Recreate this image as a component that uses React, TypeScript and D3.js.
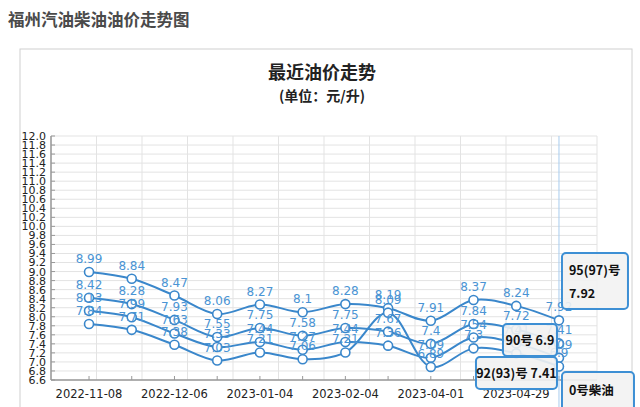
import React from "react";
import * as d3 from "d3";

const dates = [
  "2022-11-08", "2022-11-22", "2022-12-06", "2022-12-20", "2023-01-04", "2023-01-18",
  "2023-02-04", "2023-03-04", "2023-04-01", "2023-04-15", "2023-04-29", "2023-05-17",
];
const shownDates = ["2022-11-08", "2022-12-06", "2023-01-04", "2023-02-04", "2023-04-01", "2023-04-29"];
const seriesNames = ["95(97)号", "92(93)号", "0号柴油", "90号"];
const p95 = [8.99, 8.84, 8.47, 8.06, 8.27, 8.1, 8.28, 8.19, 7.91, 8.37, 8.24, 7.92];
const p92 = [8.42, 8.28, 7.93, 7.55, 7.75, 7.58, 7.75, 7.67, 7.4, 7.84, 7.72, 7.41];
const p0 = [8.13, 7.99, 7.63, 7.33, 7.44, 7.27, 7.44, 7.36, 7.09, 7.54, 7.41, 7.09];
const p90 = [7.84, 7.71, 7.38, 7.03, 7.21, 7.06, 7.21, 8.09, 6.89, 7.3, 7.19, 6.9];
const yTickLabels = [
  "6.6", "6.8", "7.0", "7.2", "7.4", "7.6", "7.8", "8.0", "8.2", "8.4", "8.6", "8.8", "9.0", "9.2",
  "9.4", "9.6", "9.8", "10.0", "10.2", "10.4", "10.6", "10.8", "11.0", "11.2", "11.4", "11.6", "11.8", "12.0",
];

const BLUE = "#3a87cb";
const LABEL_BLUE = "#4a94d4";
const FONT = "'DejaVu Sans', Verdana, sans-serif";
const CJK = "'Noto Sans CJK SC', 'Noto Sans', sans-serif";

export default function App() {
  const left = 51, right = 597, top = 136, bottom = 380;
  const x = d3.scalePoint<string>().domain(dates).range([left, right]).padding(0.89);
  const y = d3.scaleLinear().domain([6.6, 12.0]).range([bottom, top]);
  const series = [p95, p92, p0, p90];
  const line = d3
    .line<number>()
    .x((_, i) => x(dates[i]) as number)
    .y((d) => y(d))
    .curve(d3.curveCatmullRom.alpha(0.5));
  const vGrid = d3.range(0, 13).map((k) => left + ((right - left) * k) / 12);
  const lastX = x(dates[dates.length - 1]) as number;

  const tipStyle = { fill: "#f2f2f2", fillOpacity: 0.9, stroke: "#3d8fd4", strokeWidth: 2 };

  return (
    <svg width={640} height={407} style={{ position: "absolute", left: 0, top: 0, background: "#fff" }}>
      <text x={8} y={26} fontFamily={CJK} fontSize={16.5} fontWeight={700} fill="#4a4a4a">
        福州汽油柴油油价走势图
      </text>
      <rect x={20} y={49} width={612} height={370} fill="#fff" stroke="#d0d0d0" strokeWidth={1} />
      <text x={322} y={79} textAnchor="middle" fontFamily={CJK} fontSize={18} fontWeight={700} fill="#222">
        最近油价走势
      </text>
      <text x={322} y={101} textAnchor="middle" fontFamily={CJK} fontSize={14} fontWeight={700} fill="#222">
        (单位：元/升)
      </text>

      {/* grid */}
      {yTickLabels.map((t) => (
        <line key={"h" + t} x1={left} x2={right} y1={y(+t)} y2={y(+t)} stroke="#e3e3e3" strokeWidth={1} />
      ))}
      {vGrid.map((gx, i) => (
        <line key={"v" + i} x1={gx} x2={gx} y1={top} y2={bottom} stroke="#e3e3e3" strokeWidth={1} />
      ))}
      {/* axes */}
      <line x1={left} x2={left} y1={top} y2={bottom} stroke="#999" strokeWidth={1.5} />
      <line x1={left} x2={right} y1={bottom} y2={bottom} stroke="#999" strokeWidth={1.5} />
      {yTickLabels.map((t) => (
        <g key={"yt" + t}>
          <line x1={left} x2={left + 4} y1={y(+t)} y2={y(+t)} stroke="#999" />
          <text x={left - 5} y={y(+t)} dy="0.36em" textAnchor="end" fontFamily={FONT} fontSize={11} fill="#222">
            {t}
          </text>
        </g>
      ))}
      {dates.map((d) => (
        <line key={"xt" + d} x1={x(d)} x2={x(d)} y1={bottom} y2={bottom - 4} stroke="#999" />
      ))}
      {shownDates.map((d) => (
        <text key={"xl" + d} x={x(d)} y={398} textAnchor="middle" fontFamily={FONT} fontSize={11.5} fill="#222">
          {d}
        </text>
      ))}

      {/* crosshair */}
      <line x1={lastX} x2={lastX} y1={top} y2={407} stroke="#a9cdee" strokeWidth={1} />

      {/* lines */}
      {series.map((s, si) => (
        <path key={"l" + si} d={line(s) || ""} fill="none" stroke={BLUE} strokeWidth={2} />
      ))}
      {series.map((s, si) =>
        s.map((v, i) => (
          <circle key={"c" + si + "-" + i} cx={x(dates[i])} cy={y(v)} r={4.5} fill="#fff" stroke={BLUE} strokeWidth={1.6} />
        ))
      )}
      {series.map((s, si) =>
        s.map((v, i) => (
          <text
            key={"t" + si + "-" + i}
            x={x(dates[i])}
            y={y(v) - 9}
            textAnchor="middle"
            fontFamily={FONT}
            fontSize={12}
            fill={LABEL_BLUE}
          >
            {String(v)}
          </text>
        ))
      )}

      {/* tooltips */}
      <g>
        <rect x={lastX + 3} y={253} width={66} height={56} rx={4} {...tipStyle} />
        <text x={lastX + 10} y={275} fontFamily={CJK} fontSize={12.5} fontWeight={700} fill="#111">
          {seriesNames[0]}
        </text>
        <text x={lastX + 10} y={298} fontFamily={CJK} fontSize={12.5} fontWeight={700} fill="#111">
          {String(p95[p95.length - 1])}
        </text>

        <rect x={lastX - 56} y={324} width={54} height={32} rx={4} {...tipStyle} />
        <text x={lastX - 29} y={345} textAnchor="middle" fontFamily={CJK} fontSize={12.5} fontWeight={700} fill="#111">
          {seriesNames[3] + " " + p90[p90.length - 1]}
        </text>

        <rect x={lastX - 83} y={357} width={81} height={32} rx={4} {...tipStyle} />
        <text x={lastX - 42.5} y={378} textAnchor="middle" fontFamily={CJK} fontSize={12.5} fontWeight={700} fill="#111">
          {seriesNames[1] + " " + p92[p92.length - 1]}
        </text>

        <rect x={lastX + 3} y={372} width={72} height={60} rx={4} {...tipStyle} />
        <text x={lastX + 10} y={395} fontFamily={CJK} fontSize={12.5} fontWeight={700} fill="#111">
          {seriesNames[2]}
        </text>
        <text x={lastX + 10} y={418} fontFamily={CJK} fontSize={12.5} fontWeight={700} fill="#111">
          {String(p0[p0.length - 1])}
        </text>
      </g>
    </svg>
  );
}
